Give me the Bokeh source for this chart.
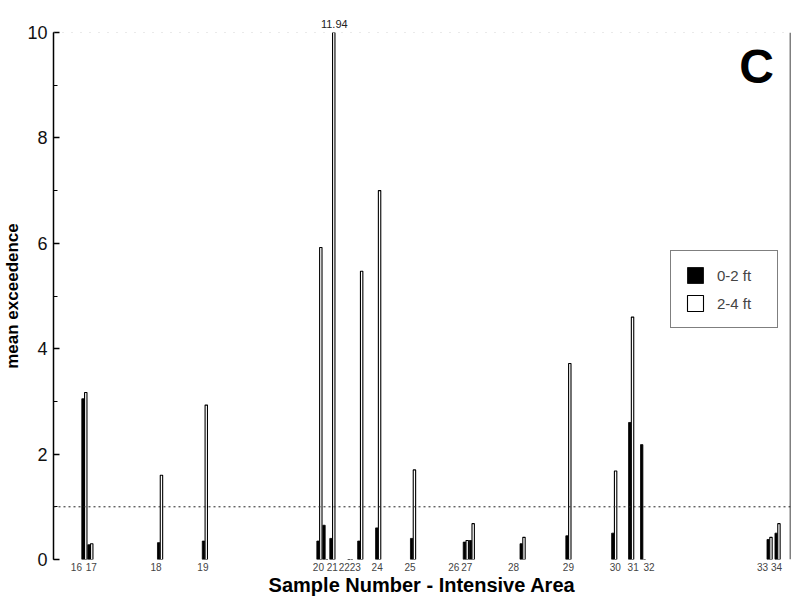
from bokeh.plotting import figure
from bokeh.models import (ColumnDataSource, FixedTicker, SingleIntervalTicker, Span,
                          Legend, LegendItem, Range1d, Title, Label)
from bokeh.embed import file_html
from bokeh.resources import INLINE

# ---- data ----
sample_labels = ["16", "17", "18", "19", "20", "", "21", "22", "23", "24", "25",
                 "26", "27", "28", "29", "30", "31", "32", "33", "34"]
location = [31, 37, 107, 152, 267, 273, 280, 298, 308, 326, 361,
            414, 420, 471, 517, 563, 580, 592, 719, 727]
label_location = [23, 38, 103, 150, 266, None, 280, 292, 303, 325, 358,
                  402, 415, 462, 517, 564, 582, 598, 712, 726]
depth_0_2 = [3.05, 0.28, 0.32, 0.35, 0.35, 0.65, 0.40, 0.0, 0.35, 0.60, 0.40,
             0.33, 0.36, 0.30, 0.45, 0.50, 2.60, 2.18, 0.38, 0.50]
depth_2_4 = [3.17, 0.30, 1.60, 2.93, 5.92, 0.0, 11.94, 0.0, 5.47, 7.00, 1.70,
             0.36, 0.68, 0.42, 3.72, 1.68, 4.60, 0.0, 0.42, 0.68]
threshold = 1.0
y_max = 10
x_extent = 740

FONT = "Liberation Sans"
off = 1.4
bw = 2.4
FRAME_W = 740

src = ColumnDataSource(dict(
    x1=[l - off for l in location],
    x2=[l + off for l in location],
    a=depth_0_2,
    b=depth_2_4,
))

p = figure(width=798, height=604, output_backend="svg", toolbar_location=None,
           x_range=Range1d(0, x_extent), y_range=Range1d(0, y_max),
           min_border_left=50, min_border_right=8, min_border_top=32,
           min_border_bottom=45)
p.outline_line_color = None
p.xgrid.grid_line_color = None
p.ygrid.grid_line_color = None
p.background_fill_color = "white"
p.border_fill_color = "white"

r1 = p.vbar(x="x1", top="a", width=bw, source=src, fill_color="black",
            line_color="black", line_width=0.8)
r2 = p.vbar(x="x2", top="b", width=bw, source=src, fill_color="white",
            line_color="black", line_width=1.1)

# y axis
ya = p.yaxis[0]
ya.ticker = SingleIntervalTicker(interval=2, num_minor_ticks=2)
ya.major_tick_in = 6
ya.major_tick_out = 0
ya.minor_tick_in = 4
ya.minor_tick_out = 0
ya.axis_line_color = "black"
ya.axis_line_width = 1.5
ya.major_tick_line_width = 1.5
ya.major_label_text_font = FONT
ya.major_label_text_font_size = "18px"
ya.major_label_text_color = "#111111"
ya.major_label_standoff = 6
ya.axis_label = "mean exceedence"
ya.axis_label_text_font = FONT
ya.axis_label_text_font_size = "17px"
ya.axis_label_text_font_style = "bold"
ya.axis_label_text_color = "black"
ya.axis_label_standoff = 2

# x axis
xa = p.xaxis[0]
ticks = [lp for lp, s in zip(label_location, sample_labels) if s]
xa.ticker = FixedTicker(ticks=ticks)
xa.major_label_overrides = {lp: s for lp, s in zip(label_location, sample_labels) if s}
xa.axis_line_color = None
xa.major_tick_line_color = None
xa.minor_tick_line_color = None
xa.major_tick_out = 0
xa.major_tick_in = 0
xa.major_label_text_font = FONT
xa.major_label_text_font_size = "10px"
xa.major_label_text_color = "#444444"
xa.major_label_standoff = 3
xa.axis_label = "Sample Number - Intensive Area"
xa.axis_label_text_font = FONT
xa.axis_label_text_font_size = "20px"
xa.axis_label_text_font_style = "bold"
xa.axis_label_text_color = "black"
xa.axis_label_standoff = 0

# reference lines
p.add_layout(Span(location=threshold, dimension="width", line_color="#222222",
                  line_dash="2 3", line_width=1))
p.add_layout(Span(location=y_max, dimension="width", line_color="#aaaaaa",
                  line_dash="1 8", line_width=1))
p.add_layout(Span(location=x_extent, dimension="height", line_color="black",
                  line_width=1.5))

# value of the clipped bar, written above the frame
top_val = max(depth_2_4)
top_loc = location[depth_2_4.index(top_val)] + off
p.add_layout(Title(text=f"{top_val:.2f}", align="left",
                   offset=top_loc / x_extent * FRAME_W - 14,
                   text_font=FONT, text_font_size="11px",
                   text_font_style="normal", text_color="#222222",
                   standoff=10), "above")

p.add_layout(Label(x=706, y=9.35, text="C", text_align="center",
                   text_baseline="middle", text_font=FONT, text_font_size="48px",
                   text_font_style="bold", text_color="black"))

legend = Legend(items=[LegendItem(label="0-2 ft", renderers=[r1]),
                       LegendItem(label="2-4 ft", renderers=[r2])],
                location=(617, 231))
legend.border_line_color = "black"
legend.border_line_width = 1
legend.background_fill_alpha = 1
legend.padding = 14
legend.spacing = 8
legend.label_standoff = 12
legend.label_width = 46
legend.glyph_width = 20
legend.glyph_height = 20
legend.label_text_font = FONT
legend.label_text_font_size = "15px"
legend.label_height = 20
p.add_layout(legend)

open("out.html", "w").write(file_html(p, INLINE))
